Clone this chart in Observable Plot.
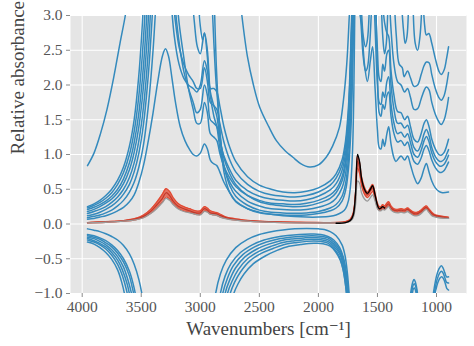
<!DOCTYPE html>
<html><head><meta charset="utf-8">
<script src="https://cdn.jsdelivr.net/npm/d3@7"></script>
<script src="https://cdn.jsdelivr.net/npm/@observablehq/plot@0.6"></script>
<style>
body{margin:0;background:#fff}
svg, svg text { font-family: "Liberation Serif", "DejaVu Serif", serif !important; }
</style>
</head><body><div id="chart"></div>
<script>
// ---- axis ticks and labels ----
const xTicks = [4000, 3500, 3000, 2500, 2000, 1500, 1000];
const yTicks = [-1.0, -0.5, 0.0, 0.5, 1.0, 1.5, 2.0, 2.5, 3.0];
const xLabel = "Wavenumbers [cm\u207B\u00B9]";
const yLabel = "Relative absorbance";

// ---- measured spectra (red band, gray, black) ----
const specWn = [3955,3800,3650,3550,3480,3420,3370,3320,3290,3260,3230,3190,3140,3090,3040,3000,2965,2940,2915,2880,2855,2830,2780,2700,2550,2300,2000,1850,1770,1730,1705,1685,1668,1650,1635,1610,1585,1560,1541,1520,1500,1485,1470,1455,1440,1420,1405,1385,1360,1330,1300,1270,1245,1220,1190,1160,1130,1105,1086,1065,1040,1010,980,950,898];
const redHigh = [0.02,0.035,0.05,0.08,0.13,0.21,0.31,0.43,0.51,0.47,0.38,0.3,0.25,0.22,0.19,0.19,0.25,0.23,0.19,0.17,0.16,0.14,0.1,0.075,0.045,0.03,0.022,0.022,0.035,0.07,0.16,0.47,0.98,0.87,0.68,0.53,0.46,0.52,0.57,0.44,0.3,0.25,0.25,0.28,0.26,0.3,0.32,0.26,0.22,0.21,0.22,0.21,0.23,0.2,0.17,0.17,0.2,0.24,0.26,0.22,0.17,0.13,0.12,0.11,0.1];
const redMid = [0.02,0.03,0.045,0.07,0.11,0.18,0.27,0.37,0.45,0.41,0.33,0.26,0.22,0.19,0.16,0.16,0.22,0.2,0.16,0.15,0.14,0.12,0.09,0.065,0.04,0.025,0.02,0.02,0.03,0.06,0.14,0.42,0.9,0.8,0.62,0.48,0.42,0.48,0.52,0.4,0.27,0.22,0.22,0.25,0.23,0.27,0.29,0.23,0.2,0.19,0.2,0.19,0.21,0.18,0.15,0.15,0.18,0.22,0.24,0.2,0.15,0.12,0.11,0.1,0.09];
const redLow = [0.015,0.025,0.04,0.06,0.095,0.155,0.23,0.32,0.39,0.36,0.29,0.23,0.19,0.17,0.14,0.14,0.19,0.18,0.14,0.13,0.12,0.1,0.08,0.055,0.035,0.02,0.018,0.018,0.025,0.05,0.12,0.37,0.8,0.72,0.56,0.43,0.38,0.43,0.47,0.36,0.24,0.2,0.2,0.22,0.21,0.24,0.26,0.21,0.18,0.17,0.18,0.17,0.19,0.16,0.13,0.13,0.16,0.2,0.22,0.18,0.13,0.11,0.1,0.09,0.08];
const grayVals = [0.015,0.025,0.04,0.06,0.09,0.15,0.22,0.31,0.37,0.34,0.28,0.22,0.18,0.16,0.14,0.13,0.18,0.17,0.14,0.13,0.12,0.1,0.075,0.055,0.035,0.02,0.015,0.015,0.02,0.04,0.09,0.28,0.62,0.58,0.45,0.36,0.33,0.38,0.42,0.33,0.22,0.19,0.19,0.21,0.2,0.23,0.25,0.2,0.17,0.16,0.17,0.16,0.18,0.15,0.12,0.12,0.15,0.19,0.21,0.17,0.12,0.1,0.09,0.085,0.08];
const blackWn = [1850,1770,1730,1705,1685,1668,1650,1635,1610,1585,1560,1541,1520,1500,1485,1470,1455,1440];
const blackVals = [0.01,0.02,0.05,0.13,0.45,1.0,0.88,0.66,0.5,0.44,0.5,0.55,0.42,0.27,0.22,0.23,0.25,0.23];

// ---- transformed spectra (blue), [wavenumber, value] ----
const U1 = [[3955,0.25],[3900,0.29],[3850,0.34],[3800,0.41],[3750,0.5],[3700,0.63],[3650,0.82],[3600,1.12],[3560,1.5],[3520,2.15],[3490,2.9],[3470,3.6]];
const U2 = [[3955,0.23],[3900,0.27],[3850,0.31],[3800,0.37],[3750,0.45],[3700,0.57],[3650,0.74],[3600,1.0],[3560,1.33],[3520,1.85],[3480,2.7],[3455,3.5]];
const U3 = [[3955,0.21],[3900,0.24],[3850,0.28],[3800,0.33],[3750,0.4],[3700,0.5],[3650,0.65],[3600,0.88],[3560,1.17],[3520,1.6],[3480,2.3],[3450,3.1],[3435,3.6]];
const U4 = [[3955,0.18],[3900,0.21],[3850,0.25],[3800,0.3],[3750,0.36],[3700,0.45],[3650,0.58],[3600,0.78],[3560,1.03],[3520,1.4],[3480,2.0],[3445,2.8],[3425,3.5]];
const U5 = [[3955,0.15],[3900,0.18],[3850,0.21],[3800,0.25],[3750,0.31],[3700,0.39],[3650,0.5],[3600,0.67],[3560,0.88],[3520,1.2],[3480,1.7],[3440,2.5],[3415,3.3]];
const U6 = [[3955,0.12],[3900,0.14],[3850,0.17],[3800,0.21],[3750,0.26],[3700,0.33],[3650,0.43],[3600,0.57],[3560,0.75],[3520,1.02],[3480,1.45],[3440,2.15],[3410,2.9],[3395,3.4]];
const U7 = [[3955,0.09],[3900,0.11],[3850,0.13],[3800,0.16],[3750,0.2],[3700,0.26],[3650,0.34],[3600,0.46],[3560,0.6],[3520,0.82],[3480,1.15],[3440,1.7],[3400,2.5],[3375,3.2],[3365,3.5]];
const U8 = [[3955,0.07],[3900,0.08],[3850,0.1],[3800,0.12],[3750,0.15],[3700,0.19],[3650,0.24],[3600,0.32],[3560,0.42],[3520,0.6],[3480,0.85],[3440,1.2],[3400,1.6],[3360,2.05],[3320,2.42],[3295,2.52],[3270,2.42],[3240,2.1],[3210,1.75],[3170,1.4],[3130,1.2],[3090,1.07],[3060,1.0],[3030,0.98],[3000,1.02],[2965,1.15],[2940,1.08],[2915,0.92],[2890,0.87],[2860,0.84],[2835,0.75],[2800,0.6],[2750,0.45],[2700,0.33],[2600,0.22],[2500,0.17],[2400,0.14],[2300,0.12],[2100,0.1],[2000,0.1],[1900,0.11],[1850,0.13],[1800,0.17],[1770,0.22],[1745,0.34],[1725,0.6],[1710,1.1],[1700,1.9],[1690,3.4]];
const S1 = [[3955,0.84],[3900,1.02],[3845,1.3],[3790,1.65],[3733,2.11],[3680,2.6],[3635,3.0],[3610,3.3]];
const S2 = [[2660,3.2],[2648,3.0],[2600,2.4],[2550,2.0],[2497,1.68],[2420,1.4],[2356,1.2],[2280,1.05],[2216,0.96],[2150,0.87],[2075,0.82],[2000,0.85],[1934,0.96],[1880,1.12],[1822,1.39],[1790,1.75],[1760,2.3],[1738,3.0],[1728,3.3]];
const UM1 = [[3255,3.4],[3220,2.7],[3180,2.3],[3140,2.1],[3100,2.0],[3060,1.95],[3030,1.9],[3000,2.0],[2965,2.35],[2940,2.2],[2915,1.95],[2885,1.95],[2860,1.9],[2835,1.7],[2800,1.4],[2750,1.1],[2700,0.9],[2600,0.68],[2500,0.56],[2400,0.5],[2300,0.46],[2200,0.45],[2100,0.47],[2000,0.52],[1900,0.62],[1850,0.72],[1800,0.92],[1770,1.2],[1745,1.7],[1725,2.6],[1712,3.4]];
const UM2 = [[3240,3.4],[3210,2.9],[3180,2.55],[3140,2.3],[3100,2.15],[3060,2.05],[3030,1.95],[3000,1.95],[2965,2.25],[2940,2.05],[2915,1.75],[2885,1.7],[2860,1.65],[2835,1.45],[2800,1.18],[2750,0.92],[2700,0.75],[2600,0.57],[2500,0.47],[2400,0.42],[2300,0.4],[2200,0.39],[2100,0.41],[2000,0.46],[1900,0.56],[1850,0.66],[1800,0.85],[1770,1.12],[1745,1.6],[1725,2.5],[1710,3.4]];
const UM3 = [[3225,3.4],[3200,2.9],[3170,2.5],[3140,2.2],[3100,1.95],[3060,1.75],[3030,1.6],[3000,1.65],[2965,2.0],[2940,1.85],[2915,1.5],[2885,1.45],[2860,1.4],[2835,1.2],[2800,0.98],[2750,0.78],[2700,0.63],[2600,0.48],[2500,0.4],[2400,0.36],[2300,0.34],[2200,0.33],[2100,0.35],[2000,0.4],[1900,0.49],[1850,0.58],[1800,0.77],[1770,1.02],[1745,1.5],[1725,2.4],[1708,3.4]];
const UM4 = [[3205,3.4],[3180,2.9],[3140,2.4],[3100,1.95],[3060,1.65],[3030,1.45],[3000,1.45],[2965,1.75],[2940,1.6],[2915,1.3],[2885,1.25],[2860,1.2],[2835,1.02],[2800,0.83],[2750,0.66],[2700,0.54],[2600,0.41],[2500,0.34],[2400,0.3],[2300,0.29],[2200,0.28],[2100,0.3],[2000,0.34],[1900,0.42],[1850,0.5],[1800,0.68],[1770,0.92],[1745,1.38],[1725,2.25],[1706,3.4]];
const UM5 = [[3075,3.4],[3050,2.9],[3025,2.55],[3000,2.45],[2965,2.75],[2940,2.5],[2915,1.9],[2885,1.7],[2860,1.55],[2835,1.25],[2800,0.95],[2750,0.72],[2700,0.57],[2600,0.41],[2500,0.32],[2400,0.28],[2300,0.26],[2200,0.25],[2100,0.26],[2000,0.3],[1900,0.37],[1850,0.45],[1800,0.62],[1770,0.85],[1745,1.3],[1725,2.1],[1704,3.4]];
const UM6 = [[3020,3.4],[3000,2.85],[2980,2.65],[2965,2.75],[2940,2.4],[2915,1.85],[2885,1.55],[2860,1.4],[2835,1.1],[2800,0.82],[2750,0.6],[2700,0.47],[2600,0.33],[2500,0.26],[2400,0.22],[2300,0.21],[2200,0.2],[2100,0.21],[2000,0.24],[1900,0.3],[1850,0.37],[1800,0.52],[1770,0.72],[1745,1.15],[1725,1.9],[1710,2.9],[1702,3.4]];
const UM7 = [[2905,3.4],[2885,2.6],[2865,2.0],[2850,1.7],[2835,1.35],[2800,0.85],[2750,0.55],[2700,0.4],[2600,0.27],[2500,0.2],[2400,0.17],[2300,0.16],[2200,0.155],[2100,0.16],[2000,0.18],[1900,0.23],[1850,0.28],[1800,0.4],[1770,0.58],[1745,0.95],[1725,1.6],[1710,2.5],[1698,3.4]];
const UM8 = [[2885,3.4],[2865,2.3],[2850,1.75],[2835,1.35],[2800,0.75],[2750,0.45],[2700,0.32],[2600,0.22],[2500,0.16],[2400,0.14],[2300,0.13],[2200,0.125],[2100,0.13],[2000,0.15],[1900,0.19],[1850,0.23],[1800,0.33],[1770,0.48],[1745,0.8],[1725,1.35],[1710,2.2],[1696,3.4]];
const R1 = [[1115,3.3],[1100,2.85],[1086,2.72],[1065,2.74],[1040,2.6],[1010,2.38],[980,2.2],[960,2.15],[935,2.22],[915,2.38],[898,2.55]];
const R2 = [[1360,3.3],[1340,2.7],[1316,2.3],[1290,2.25],[1274,2.12],[1245,2.2],[1220,2.1],[1190,1.98],[1160,2.0],[1130,2.15],[1105,2.28],[1086,2.33],[1063,2.32],[1040,2.15],[1010,1.95],[980,1.82],[960,1.78],[935,1.85],[915,2.0],[898,2.18]];
const R3 = [[1400,3.3],[1385,2.8],[1360,2.3],[1330,2.05],[1300,2.0],[1270,1.9],[1245,1.95],[1220,1.82],[1190,1.65],[1160,1.66],[1130,1.8],[1105,1.92],[1086,1.97],[1063,1.93],[1040,1.75],[1010,1.58],[980,1.47],[960,1.43],[935,1.5],[915,1.64],[898,1.82]];
const R4 = [[1460,3.3],[1440,2.9],[1420,2.75],[1405,2.7],[1385,2.2],[1360,1.85],[1330,1.62],[1300,1.6],[1270,1.5],[1245,1.55],[1220,1.4],[1190,1.22],[1160,1.18],[1130,1.3],[1105,1.45],[1086,1.5],[1063,1.4],[1040,1.22],[1010,1.08],[980,1.0],[960,0.99],[935,1.03],[915,1.12],[898,1.22]];
const R5 = [[1520,3.3],[1500,2.5],[1485,2.1],[1470,2.05],[1455,2.3],[1440,2.2],[1420,2.45],[1405,2.5],[1385,2.0],[1360,1.65],[1330,1.45],[1300,1.45],[1270,1.38],[1245,1.42],[1220,1.28],[1190,1.1],[1160,1.05],[1130,1.15],[1105,1.3],[1086,1.36],[1063,1.27],[1040,1.1],[1010,0.97],[980,0.91],[960,0.9],[935,0.93],[915,1.0],[898,1.07]];
const R6 = [[1530,3.3],[1515,2.6],[1500,2.0],[1485,1.75],[1470,1.72],[1455,1.9],[1440,1.82],[1420,2.05],[1405,2.12],[1385,1.72],[1360,1.45],[1330,1.3],[1300,1.32],[1270,1.25],[1245,1.3],[1220,1.17],[1190,1.0],[1160,0.96],[1130,1.06],[1105,1.2],[1086,1.26],[1063,1.18],[1040,1.02],[1010,0.9],[980,0.84],[960,0.83],[935,0.86],[915,0.92],[898,0.99]];
const R7a = [[1660,3.3],[1640,2.9],[1620,2.4],[1600,2.2],[1585,2.25],[1565,2.6],[1550,3.1],[1540,3.4]];
const R7b = [[1515,3.3],[1500,2.2],[1485,1.6],[1470,1.55],[1455,1.72],[1440,1.65],[1420,1.85],[1405,1.9],[1385,1.55],[1360,1.3],[1330,1.18],[1300,1.2],[1270,1.13],[1245,1.18],[1220,1.05],[1190,0.9],[1160,0.86],[1130,0.95],[1105,1.08],[1086,1.13],[1063,1.05],[1040,0.92],[1010,0.81],[980,0.75],[960,0.74],[935,0.77],[915,0.83],[898,0.89]];
const R8 = [[1660,3.3],[1645,3.0],[1635,2.9],[1610,2.3],[1585,2.05],[1560,2.35],[1541,2.55],[1520,1.95],[1500,1.35],[1485,1.1],[1470,1.08],[1455,1.22],[1440,1.12],[1420,1.3],[1405,1.4],[1385,1.15],[1360,0.95],[1344,0.9],[1300,0.98],[1270,0.92],[1245,0.98],[1220,0.85],[1190,0.68],[1160,0.58],[1130,0.66],[1105,0.8],[1086,0.87],[1065,0.76],[1040,0.62],[1010,0.52],[980,0.47],[950,0.45],[898,0.46]];
const D1 = [[1640,3.3],[1620,2.7],[1600,2.55],[1585,2.65],[1565,3.3]];
const D2 = [[1470,3.3],[1455,2.7],[1440,2.45],[1425,2.6],[1410,3.3]];
const D3 = [[1300,3.3],[1280,2.8],[1265,2.6],[1250,2.7],[1235,3.3]];
const D4 = [[1200,3.3],[1180,2.6],[1160,2.5],[1140,2.7],[1120,3.3]];
const L1 = [[3955,-0.07],[3900,-0.09],[3850,-0.11],[3800,-0.14],[3750,-0.18],[3700,-0.23],[3650,-0.31],[3600,-0.43],[3560,-0.58],[3520,-0.8],[3490,-1.05],[3470,-1.3]];
const L2 = [[3955,-0.15],[3900,-0.17],[3850,-0.2],[3800,-0.24],[3750,-0.3],[3700,-0.38],[3650,-0.5],[3600,-0.68],[3570,-0.85],[3545,-1.05],[3525,-1.3]];
const L3 = [[3955,-0.17],[3900,-0.19],[3850,-0.22],[3800,-0.27],[3750,-0.33],[3700,-0.42],[3650,-0.55],[3600,-0.75],[3575,-0.92],[3555,-1.08],[3535,-1.3]];
const L4 = [[3955,-0.19],[3900,-0.21],[3850,-0.25],[3800,-0.3],[3750,-0.37],[3700,-0.47],[3650,-0.62],[3610,-0.82],[3580,-1.02],[3560,-1.25]];
const L5 = [[3955,-0.21],[3900,-0.24],[3850,-0.28],[3800,-0.33],[3750,-0.41],[3700,-0.52],[3660,-0.66],[3620,-0.86],[3595,-1.05],[3575,-1.3]];
const L6 = [[3955,-0.23],[3900,-0.26],[3850,-0.3],[3800,-0.36],[3750,-0.45],[3700,-0.58],[3660,-0.74],[3625,-0.95],[3605,-1.12],[3590,-1.3]];
const L7 = [[3955,-0.26],[3900,-0.29],[3850,-0.34],[3800,-0.41],[3750,-0.51],[3700,-0.66],[3665,-0.84],[3640,-1.02],[3620,-1.25]];
const M1 = [[2890,-1.3],[2870,-1.0],[2830,-0.72],[2780,-0.52],[2700,-0.34],[2600,-0.22],[2500,-0.15],[2400,-0.11],[2300,-0.085],[2200,-0.07],[2100,-0.065],[2000,-0.07],[1950,-0.08],[1900,-0.11],[1850,-0.17],[1800,-0.3],[1775,-0.45],[1755,-0.7],[1740,-1.0],[1730,-1.3]];
const M2 = [[2850,-1.3],[2830,-1.0],[2790,-0.75],[2740,-0.57],[2660,-0.41],[2560,-0.3],[2460,-0.23],[2360,-0.19],[2260,-0.165],[2160,-0.15],[2060,-0.145],[1980,-0.15],[1920,-0.18],[1870,-0.23],[1820,-0.34],[1790,-0.47],[1765,-0.68],[1750,-0.9],[1740,-1.1],[1732,-1.3]];
const M3 = [[2830,-1.3],[2810,-1.0],[2770,-0.78],[2720,-0.6],[2640,-0.44],[2540,-0.33],[2440,-0.26],[2340,-0.215],[2240,-0.19],[2140,-0.175],[2060,-0.17],[1980,-0.175],[1920,-0.2],[1870,-0.26],[1820,-0.37],[1790,-0.5],[1768,-0.7],[1752,-0.92],[1742,-1.12],[1735,-1.3]];
const M4 = [[2810,-1.3],[2790,-1.0],[2750,-0.8],[2700,-0.63],[2620,-0.47],[2520,-0.36],[2420,-0.29],[2320,-0.24],[2220,-0.215],[2120,-0.2],[2060,-0.195],[1980,-0.2],[1920,-0.225],[1870,-0.29],[1820,-0.4],[1792,-0.53],[1770,-0.73],[1755,-0.95],[1745,-1.15],[1738,-1.3]];
const M5 = [[2790,-1.3],[2770,-1.0],[2730,-0.82],[2680,-0.66],[2600,-0.5],[2500,-0.39],[2400,-0.32],[2300,-0.265],[2200,-0.24],[2120,-0.225],[2060,-0.22],[1980,-0.225],[1920,-0.25],[1870,-0.32],[1820,-0.43],[1795,-0.56],[1773,-0.76],[1758,-0.98],[1748,-1.18],[1741,-1.3]];
const M6 = [[2770,-1.3],[2750,-1.02],[2710,-0.84],[2660,-0.69],[2580,-0.53],[2480,-0.42],[2380,-0.35],[2280,-0.29],[2180,-0.265],[2100,-0.25],[2040,-0.245],[1980,-0.25],[1920,-0.275],[1870,-0.35],[1825,-0.46],[1798,-0.6],[1776,-0.8],[1762,-1.0],[1752,-1.2],[1745,-1.3]];
const M7 = [[2740,-1.3],[2720,-1.02],[2680,-0.86],[2630,-0.72],[2550,-0.57],[2450,-0.46],[2350,-0.38],[2250,-0.32],[2150,-0.295],[2080,-0.28],[2020,-0.278],[1960,-0.285],[1900,-0.32],[1855,-0.4],[1815,-0.52],[1790,-0.66],[1772,-0.85],[1760,-1.03],[1750,-1.22],[1745,-1.3]];
const B1 = [[1225,-1.1],[1215,-0.95],[1200,-0.83],[1190,-0.8],[1178,-0.84],[1165,-0.95],[1155,-1.1]];
const B2 = [[1220,-1.1],[1210,-0.97],[1198,-0.88],[1188,-0.86],[1176,-0.9],[1165,-1.0],[1158,-1.1]];
const B3 = [[1215,-1.1],[1205,-1.0],[1195,-0.93],[1187,-0.92],[1177,-0.96],[1168,-1.05],[1162,-1.1]];
const B4 = [[1035,-1.1],[1020,-0.93],[1000,-0.75],[980,-0.65],[960,-0.6],[945,-0.63],[930,-0.7],[915,-0.76],[898,-0.76]];
const B5 = [[1030,-1.1],[1015,-0.96],[995,-0.8],[975,-0.71],[958,-0.68],[943,-0.71],[928,-0.78],[915,-0.84],[898,-0.85]];
const B6 = [[1025,-1.1],[1010,-0.98],[990,-0.85],[972,-0.78],[955,-0.76],[940,-0.79],[925,-0.86],[912,-0.93],[898,-0.95]];

const blueList = [U1,U2,U3,U4,U5,U6,U7,U8,S1,S2,UM1,UM2,UM3,UM4,UM5,UM6,UM7,UM8,R1,R2,R3,R4,R5,R6,R7a,R7b,R8,D1,D2,D3,D4,L1,L2,L3,L4,L5,L6,L7,M1,M2,M3,M4,M5,M6,M7,B1,B2,B3,B4,B5,B6];
const blueData = blueList.flatMap((c, i) => c.map(([wn, v]) => ({wn, v, id: i})));
const specData = specWn.map((wn, i) => ({wn, hi: redHigh[i], mid: redMid[i], lo: redLow[i], gray: grayVals[i]}));
const blackData = blackWn.map((wn, i) => ({wn, v: blackVals[i]}));

const font = "Liberation Serif";
const chart = Plot.plot({
  width: 474, height: 346,
  marginLeft: 70, marginRight: 8, marginTop: 15, marginBottom: 53,
  style: {fontFamily: font, fontSize: "15.5px", color: "#555", background: "white"},
  x: {domain: [4099, 746], axis: null},
  y: {domain: [-1, 3], axis: null},
  marks: [
    Plot.frame({fill: "#E5E5E5", stroke: "none"}),
    Plot.gridX(xTicks, {stroke: "white", strokeOpacity: 1, strokeWidth: 1.1}),
    Plot.gridY(yTicks, {stroke: "white", strokeOpacity: 1, strokeWidth: 1.1}),
    Plot.line(blueData, {x: "wn", y: "v", z: "id", stroke: "#348ABD", strokeWidth: 1.5, curve: "catmull-rom", clip: true}),
    Plot.areaY(specData, {x: "wn", y1: "lo", y2: "hi", fill: "#E24A33", fillOpacity: 0.75, curve: "catmull-rom", clip: true}),
    Plot.line(specData, {x: "wn", y: "hi", stroke: "#E24A33", strokeWidth: 1.3, curve: "catmull-rom", clip: true}),
    Plot.line(specData, {x: "wn", y: "lo", stroke: "#E24A33", strokeWidth: 1.3, curve: "catmull-rom", clip: true}),
    Plot.line(specData, {x: "wn", y: "mid", stroke: "#c0392b", strokeWidth: 1.2, curve: "catmull-rom", clip: true}),
    Plot.line(specData, {x: "wn", y: "gray", stroke: "#9a9a9a", strokeWidth: 1.3, curve: "catmull-rom", clip: true}),
    Plot.line(blackData, {x: "wn", y: "v", stroke: "black", strokeWidth: 1.4, curve: "catmull-rom", clip: true}),
    Plot.axisX(xTicks, {tickSize: 4, tickPadding: 3.5, stroke: "#8a8a8a", fill: "#555", tickFormat: d => String(d), label: null, fontSize: 15.5, fontFamily: font}),
    Plot.axisY(yTicks, {tickSize: 4, tickPadding: 4, stroke: "#8a8a8a", fill: "#555", tickFormat: d3.format(".1f"), label: null, fontSize: 15.5, fontFamily: font}),
    Plot.text([xLabel], {frameAnchor: "bottom", dy: 35, lineAnchor: "middle", fontSize: 19, fill: "#444", fontFamily: font}),
    Plot.text([yLabel], {frameAnchor: "left", dx: -53, rotate: -90, lineAnchor: "middle", fontSize: 19, fill: "#444", fontFamily: font})
  ]
});
document.getElementById("chart").appendChild(chart);
</script>
</body></html>
